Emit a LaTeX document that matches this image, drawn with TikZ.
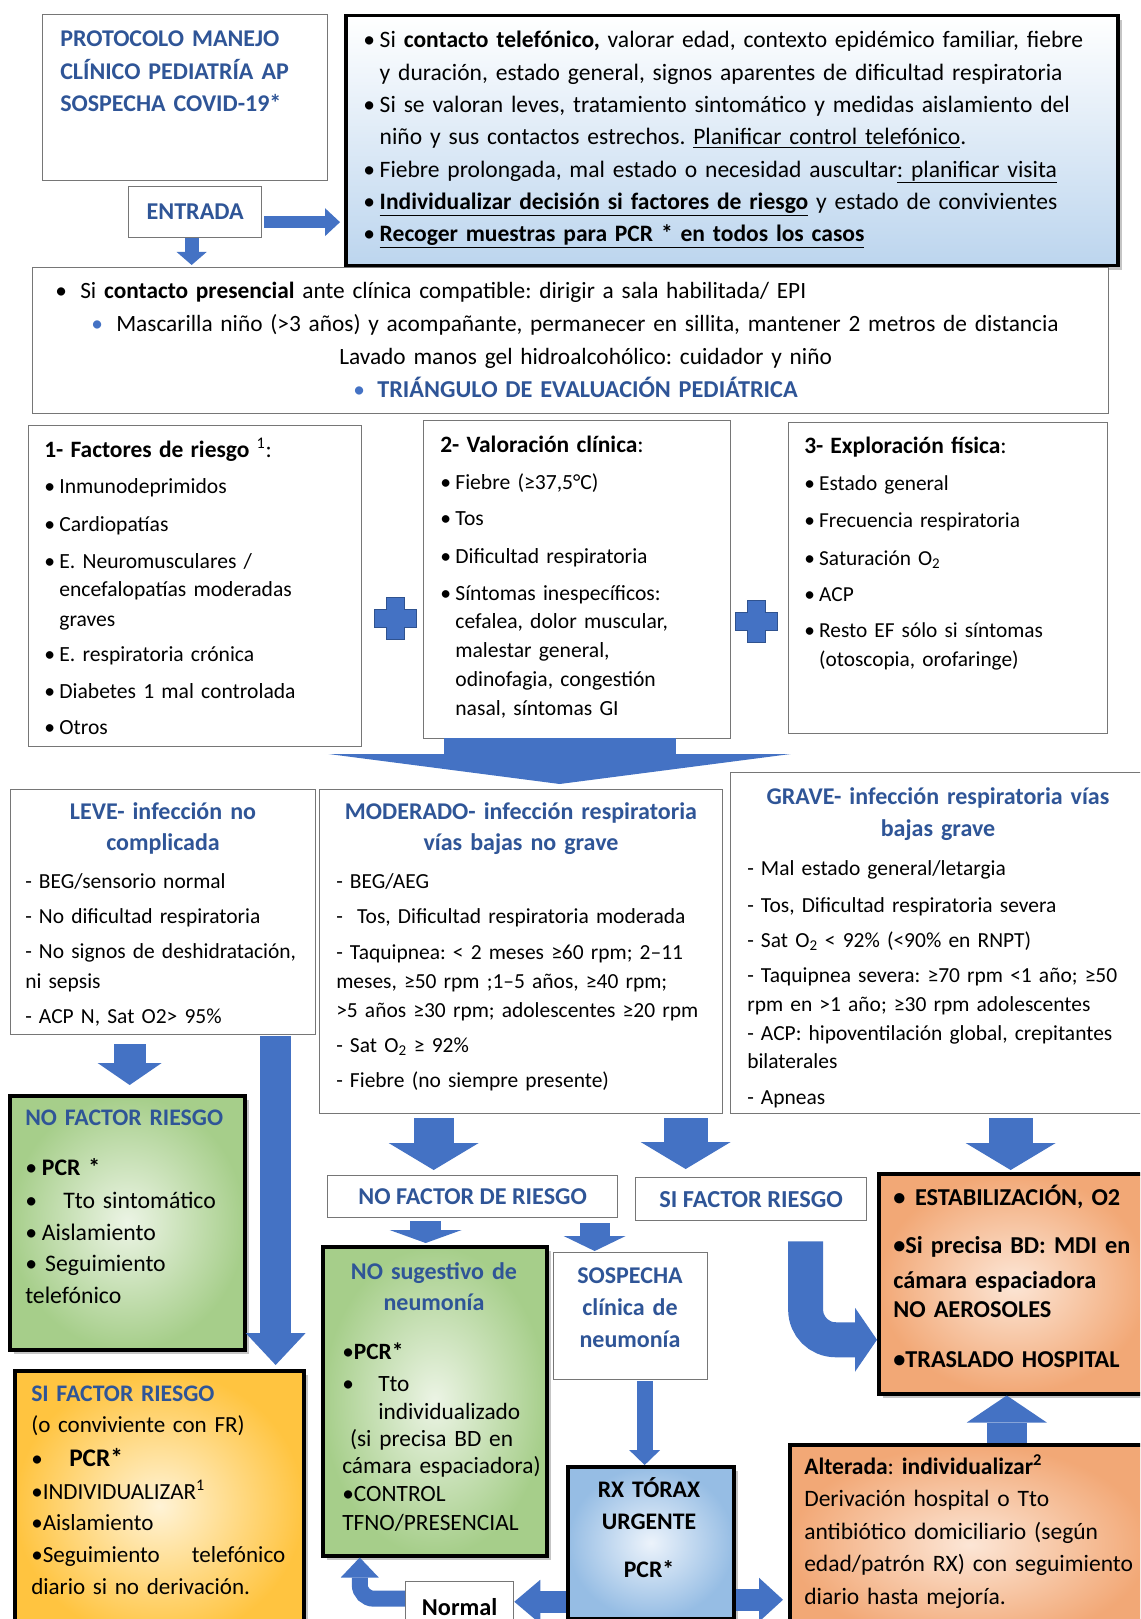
\documentclass[tikz,border=0pt]{standalone}
\usepackage{fontspec}
\setmainfont{Carlito}
\usetikzlibrary{arrows.meta,shadows,positioning}
\frenchspacing

\newdimen\pxu \pxu=0.75pt
\definecolor{hdblue}{RGB}{47,85,151}
\definecolor{arblue}{RGB}{68,114,196}
\definecolor{arline}{RGB}{47,82,143}
\definecolor{lngray}{RGB}{118,118,118}
\definecolor{telblue}{RGB}{188,213,238}
\definecolor{grnout}{RGB}{166,206,138}
\definecolor{grnin}{RGB}{236,244,229}
\definecolor{ylwout}{RGB}{255,196,64}
\definecolor{ylwin}{RGB}{255,243,214}
\definecolor{salout}{RGB}{242,168,118}
\definecolor{salin}{RGB}{252,230,214}
\definecolor{rxout}{RGB}{150,189,228}
\definecolor{rxin}{RGB}{236,243,251}

\newcommand\itm{\makebox[0.7em][l]{•}}
\newcommand\hng{\hspace*{0.7em}}
\newcommand\ttl[1]{{\fontsize{17.6}{10}\selectfont\bfseries #1}}

\tikzset{
  plainbox/.style={draw=lngray, line width=1.3\pxu, fill=white, inner sep=0pt, anchor=north west},
  heavybox/.style={draw=black, line width=3.5\pxu, inner sep=0pt, anchor=north west,
    drop shadow={shadow xshift=4\pxu, shadow yshift=-4\pxu, opacity=.45}},
  txt/.style 2 args={inner sep=0pt, anchor=base west, align=left, font=\fontsize{#1}{#2}\selectfont},
  hd/.style={inner sep=0pt, anchor=base, align=center, text=hdblue, font=\fontsize{18}{#1}\selectfont\bfseries},
  lbl/.style={text=hdblue, font=\fontsize{18.1}{20}\selectfont\bfseries},
  fat/.style n args={3}{/utils/exec={\pgfmathsetmacro\fatw{#2*0.75}\pgfmathsetmacro\fatl{#3*0.75}},
    draw=arblue, line width=#1\pxu, -{Triangle[width=\fatw pt, length=\fatl pt, line width=0pt]}}
}

\begin{document}
\begin{tikzpicture}[x=0.75pt, y=-0.75pt]
\path[use as bounding box, fill=white] (0,0) rectangle (1140,1619);
\clip (0,0) rectangle (1140,1619);

% cabecera
\node[plainbox, minimum width=285\pxu, minimum height=166\pxu] (title) at (42,14) {};
\node[txt={18}{24.3}, text width=270\pxu, text=hdblue] (title-t) at ([shift={(18,33)}]title.north west)
  {\bfseries PROTOCOLO MANEJO\\CLÍNICO PEDIATRÍA AP\\SOSPECHA COVID-19*};
\node[plainbox, lbl, minimum width=133\pxu, minimum height=51\pxu] (entr) at (128,186) {ENTRADA};

\node[heavybox, top color=white, bottom color=telblue, minimum width=772\pxu, minimum height=250\pxu] (tel) at (344,14) {};
\node[txt={17.65}{24.2}, text width=790\pxu] (tel-t) at ([shift={(19,34)}]tel.north west)
  {\itm Si \textbf{contacto telefónico,} valorar edad, contexto epidémico familiar, fiebre\\
   \hng y duración, estado general, signos aparentes de dificultad respiratoria\\
   \itm Si se valoran leves, tratamiento sintomático y medidas aislamiento del\\
   \hng niño y sus contactos estrechos. \underline{Planificar control telefónico}.\\
   \itm Fiebre prolongada, mal estado o necesidad auscultar\underline{: planificar visita}\\
   \itm \underline{\textbf{Individualizar decisión si factores de riesgo}} y estado de convivientes\\
   \itm \underline{\textbf{Recoger muestras para PCR * en todos los casos}}};

% contacto presencial
\node[plainbox, minimum width=1076\pxu, minimum height=146\pxu] (pres) at (32,267) {};
\node[txt={17.5}{24.7}, text width=1070\pxu] (pres-t) at ([shift={(23,32)}]pres.north west)
  {\makebox[25\pxu][l]{•}Si \textbf{contacto presencial} ante clínica compatible: dirigir a sala habilitada/ EPI\\
   \hspace*{36\pxu}\makebox[25\pxu][l]{\textcolor{arblue}{•}}Mascarilla niño (>3 años) y acompañante, permanecer en sillita, mantener 2 metros de distancia\\
   \hspace*{284\pxu}Lavado manos gel hidroalcohólico: cuidador y niño\\
   \hspace*{298\pxu}\makebox[24\pxu][l]{\textcolor{arblue}{•}}\textcolor{hdblue}{\fontsize{18.2}{10}\selectfont\bfseries TRIÁNGULO DE EVALUACIÓN PEDIÁTRICA}};

% triangulo
\node[plainbox, minimum width=333\pxu, minimum height=321\pxu] (fr) at (28,425) {};
\node[txt={16.2}{21.5}, text width=330\pxu] (fr-t) at ([shift={(16,32)}]fr.north west)
  {\ttl{1- Factores de riesgo} {\fontsize{17.4}{10}\selectfont\textsuperscript{1}:}\\[5.5pt]
   \itm Inmunodeprimidos\\[7pt]
   \itm Cardiopatías\\[6.25pt]
   \itm E. Neuromusculares /\\
   \hng encefalopatías moderadas\\[1pt]
   \hng graves\\[4.75pt]
   \itm E. respiratoria crónica\\[6.25pt]
   \itm Diabetes 1 mal controlada\\[5.5pt]
   \itm Otros};

\node[plainbox, minimum width=307\pxu, minimum height=318\pxu] (val) at (423,420) {};
\node[txt={16.2}{21.5}, text width=300\pxu] (val-t) at ([shift={(17,32)}]val.north west)
  {\ttl{2- Valoración clínica}{\fontsize{17.6}{10}\selectfont:}\\[6.25pt]
   \itm Fiebre (≥37,5°C)\\[5.5pt]
   \itm Tos\\[7pt]
   \itm Dificultad respiratoria\\[6.25pt]
   \itm Síntomas inespecíficos:\\
   \hng cefalea, dolor muscular,\\[0.25pt]
   \hng malestar general,\\
   \hng odinofagia, congestión\\[0.25pt]
   \hng nasal, síntomas GI};

\node[plainbox, minimum width=319\pxu, minimum height=311\pxu] (exp) at (788,422) {};
\node[txt={16}{21.5}, text width=310\pxu] (exp-t) at ([shift={(16,31)}]exp.north west)
  {\ttl{3- Exploración física}{\fontsize{17.6}{10}\selectfont:}\\[6.25pt]
   \itm Estado general\\[6.25pt]
   \itm Frecuencia respiratoria\\[7pt]
   \itm Saturación O\textsubscript{2}\\[5.5pt]
   \itm ACP\\[5.5pt]
   \itm Resto EF sólo si síntomas\\[0.25pt]
   \hng (otoscopia, orofaringe)};

\foreach \cx/\cy in {395/618, 756/621}
  \draw[fill=arblue, draw=arline, line width=1\pxu, shift={(\cx,\cy)}]
    (-9,-21) -- (9,-21) -- (9,-9) -- (21,-9) -- (21,9) -- (9,9) -- (9,21)
    -- (-9,21) -- (-9,9) -- (-21,9) -- (-21,-9) -- (-9,-9) -- cycle;

% gravedad
\node[plainbox, minimum width=305\pxu, minimum height=245\pxu] (leve) at (10,789) {};
\node[hd=23.25, text width=300\pxu] (leve-h) at ([shift={(153,30)}]leve.north west)
  {LEVE- infección no\\complicada};
\node[txt={16.1}{22.5}, text width=300\pxu] (leve-t) at ([shift={(15,99)}]leve.north west)
  {- BEG/sensorio normal\\[3.75pt]
   - No dificultad respiratoria\\[3.75pt]
   - No signos de deshidratación,\\
   ni sepsis\\[3.75pt]
   - ACP N, Sat O2> 95\%};

\node[plainbox, minimum width=403\pxu, minimum height=324\pxu] (mod) at (319,789) {};
\node[hd=23.25, text width=400\pxu] (mod-h) at ([shift={(202,30)}]mod.north west)
  {MODERADO- infección respiratoria\\vías bajas no grave};
\node[txt={16.1}{21.75}, text width=400\pxu] (mod-t) at ([shift={(17,99)}]mod.north west)
  {- BEG/AEG\\[4.5pt]
   -\ \ Tos, Dificultad respiratoria moderada\\[5.25pt]
   - Taquipnea: < 2 meses ≥60 rpm; 2–11\\
   meses, ≥50 rpm ;1–5 años, ≥40 rpm;\\
   >5 años ≥30 rpm; adolescentes ≥20 rpm\\[4.5pt]
   - Sat O\textsubscript{2} ≥ 92\%\\[4.5pt]
   - Fiebre (no siempre presente)};

\node[plainbox, minimum width=420\pxu, minimum height=341\pxu] (grave) at (730,772) {};
\node[hd=24, text width=410\pxu] (grave-h) at ([shift={(208,32)}]grave.north west)
  {GRAVE- infección respiratoria vías\\bajas grave};
\node[txt={16.1}{21.5}, text width=400\pxu] (grave-t) at ([shift={(17,103)}]grave.north west)
  {- Mal estado general/letargia\\[6.25pt]
   - Tos, Dificultad respiratoria severa\\[4.75pt]
   - Sat O\textsubscript{2} < 92\% (<90\% en RNPT)\\[4.75pt]
   - Taquipnea severa: ≥70 rpm <1 año; ≥50\\[0.25pt]
   rpm en >1 año; ≥30 rpm adolescentes\\[0.25pt]
   - ACP: hipoventilación global, crepitantes\\
   bilaterales\\[5.5pt]
   - Apneas};

% conducta
\node[heavybox, inner color=grnin, outer color=grnout, minimum width=235\pxu, minimum height=254\pxu] (nofr) at (8,1094) {};
\node[txt={17.8}{24}, text width=220\pxu] (nofr-t) at ([shift={(17,31)}]nofr.north west)
  {\textcolor{hdblue}{\bfseries NO FACTOR RIESGO}\\[13.5pt]
   \itm\textbf{PCR *}\\[0.75pt]
   \makebox[38\pxu][l]{•}Tto sintomático\\
   \itm Aislamiento\\[-0.75pt]
   \makebox[20\pxu][l]{•}Seguimiento\\
   telefónico};

\node[heavybox, inner color=ylwin, outer color=ylwout, minimum width=289\pxu, minimum height=270\pxu] (sifr) at (13,1369) {};
\node[txt={17.3}{23.5}, text width=254\pxu] (sifr-t) at ([shift={(18,32)}]sifr.north west)
  {\textcolor{hdblue}{\fontsize{17.8}{10}\selectfont\bfseries SI FACTOR RIESGO}\\
   (o conviviente con FR)\\[2pt]
   \makebox[38\pxu][l]{•}{\fontsize{19}{20}\selectfont\bfseries PCR*}\\[1.25pt]
   •INDIVIDUALIZAR\textsuperscript{1}\\
   •Aislamiento\\[0.5pt]
   •Seguimiento\hfill telefónico\\
   diario si no derivación.};

\node[plainbox, lbl, minimum width=290\pxu, minimum height=42\pxu] (nofdr) at (327,1175) {NO FACTOR DE RIESGO};
\node[plainbox, lbl, minimum width=231\pxu, minimum height=43\pxu, font=\fontsize{18.3}{20}\selectfont\bfseries] (sifdr) at (635,1177) {SI FACTOR RIESGO};

\node[heavybox, inner color=grnin, outer color=grnout, minimum width=224\pxu, minimum height=309\pxu] (nosug) at (321,1245) {};
\node[hd=23.25, text width=220\pxu] (nosug-h) at ([shift={(113,34)}]nosug.north west)
  {NO sugestivo de\\neumonía};
\node[txt={17.5}{21}, text width=215\pxu] (nosug-t) at ([shift={(21,114)}]nosug.north west)
  {•\textbf{PCR*}\\[3pt]
   \makebox[36\pxu][l]{•}Tto\\
   \hspace*{36\pxu}individualizado\\[-0.75pt]
   \ (si precisa BD en\\[-0.75pt]
   cámara espaciadora)\\
   •CONTROL\\[0.75pt]
   TFNO/PRESENCIAL};

\node[plainbox, minimum width=154\pxu, minimum height=127\pxu] (sosp) at (553,1252) {};
\node[hd=24, text width=150\pxu] (sosp-t) at ([shift={(77,31)}]sosp.north west)
  {SOSPECHA\\clínica de\\neumonía};

\node[heavybox, inner color=rxin, outer color=rxout, minimum width=166\pxu, minimum height=152\pxu] (rx) at (566,1465) {};
\node[txt={17.8}{24}, anchor=base, align=center, text width=160\pxu] (rx-t) at ([shift={(83,32)}]rx.north west)
  {\bfseries RX TÓRAX\\URGENTE\\[12pt]PCR*};

\node[plainbox, minimum width=108\pxu, minimum height=50\pxu,
  font=\fontsize{18.2}{20}\selectfont\bfseries] (normal) at (405,1581) {Normal};

\node[heavybox, inner color=salin, outer color=salout, minimum width=360\pxu, minimum height=200\pxu] (alt) at (788,1443) {};
\node[txt={17.65}{24.4}, text width=340\pxu] (alt-t) at ([shift={(16,31)}]alt.north west)
  {\textbf{Alterada}: \textbf{individualizar\textsuperscript{2}}\\
   Derivación hospital o Tto\\
   antibiótico domiciliario (según\\
   edad/patrón RX) con seguimiento\\
   diario hasta mejoría.};

\node[heavybox, inner color=salin, outer color=salout, minimum width=270\pxu, minimum height=220\pxu] (estab) at (877,1172) {};
\node[txt={18.2}{22.5}, text width=255\pxu] (estab-t) at ([shift={(16,33)}]estab.north west)
  {\bfseries\makebox[0.9em][l]{•}ESTABILIZACIÓN, O2\\[13.5pt]
   •Si precisa BD: MDI en\\[3.75pt]
   cámara espaciadora\\[-0.75pt]
   NO AEROSOLES\\[15pt]
   •TRASLADO HOSPITAL};

% flechas
\coordinate (a1) at ([shift={(2,10)}]entr.east);
\draw[fat={12}{28}{15}, shorten >=4\pxu] (a1) -- (a1 -| tel.west);
\coordinate (a2) at ([shift={(-3.5,0)}]entr.south);
\draw[fat={14}{30}{13}, shorten >=2\pxu] (a2) -- (a2 |- pres.north);
\coordinate (a3) at ([shift={(-17.5,-1)}]val.south);
\draw[fat={232}{462}{30}, shorten >=5\pxu] (a3) -- (a3 |- leve.north);
\coordinate (a4) at ([shift={(-33.5,9)}]leve.south);
\draw[fat={32}{64}{22}, shorten >=9\pxu] (a4) -- (a4 |- nofr.north);
\coordinate (a5) at ([shift={(112.5,1)}]leve.south);
\draw[fat={31}{60}{32}, shorten >=4\pxu] (a5) -- (a5 |- sifr.north);
\coordinate (a6) at ([shift={(-87.5,4)}]mod.south);
\draw[fat={40}{90}{27}, shorten >=5\pxu] (a6) -- (a6 |- nofdr.north);
\coordinate (a7) at ([shift={(164.5,4)}]mod.south);
\draw[fat={44}{90}{27}, shorten >=8\pxu] (a7) -- (a7 |- sifdr.north);
\coordinate (a8) at ([shift={(70,4)}]grave.south);
\draw[fat={44}{90}{27}, shorten >=2\pxu] (a8) -- (a8 |- estab.north);
\coordinate (a9) at ([shift={(-47,3)}]nofdr.south);
\draw[fat={31}{72}{13}, shorten >=2\pxu] (a9) -- (a9 |- nosug.north);
\coordinate (a10) at ([shift={(122,5)}]nofdr.south);
\draw[fat={30}{62}{15}, shorten >=1\pxu] (a10) -- (a10 |- sosp.north);
\coordinate (a11) at ([shift={(14,1)}]sosp.south);
\draw[fat={16}{31}{15}] (a11) -- (a11 |- rx.north);
\coordinate (a12) at ([shift={(0,59)}]rx.west);
\draw[fat={22}{44}{26}] (a12) -- (a12 -| normal.east);
\coordinate (a13) at ([shift={(0,57)}]rx.east);
\draw[fat={22}{44}{24}, shorten >=5\pxu] (a13) -- (a13 -| alt.west);
\coordinate (a14) at ([shift={(0,-8)}]normal.west);
\coordinate (a14e) at ([shift={(-75,0)}]nosug.south);
\draw[fat={16}{38}{20}, rounded corners=14\pxu] (a14) -| (a14e);
\coordinate (a15) at ([shift={(37,0)}]alt.north);
\draw[fat={40}{80}{27}] (a15) -- (a15 |- estab.south);
\coordinate (a16) at ([shift={(54.5,20)}]sifdr.south);
\coordinate (a16e) at ([shift={(0,56)}]estab.west);
\draw[fat={35}{64}{22}, rounded corners=30\pxu] (a16) |- (a16e);
\end{tikzpicture}
\end{document}
